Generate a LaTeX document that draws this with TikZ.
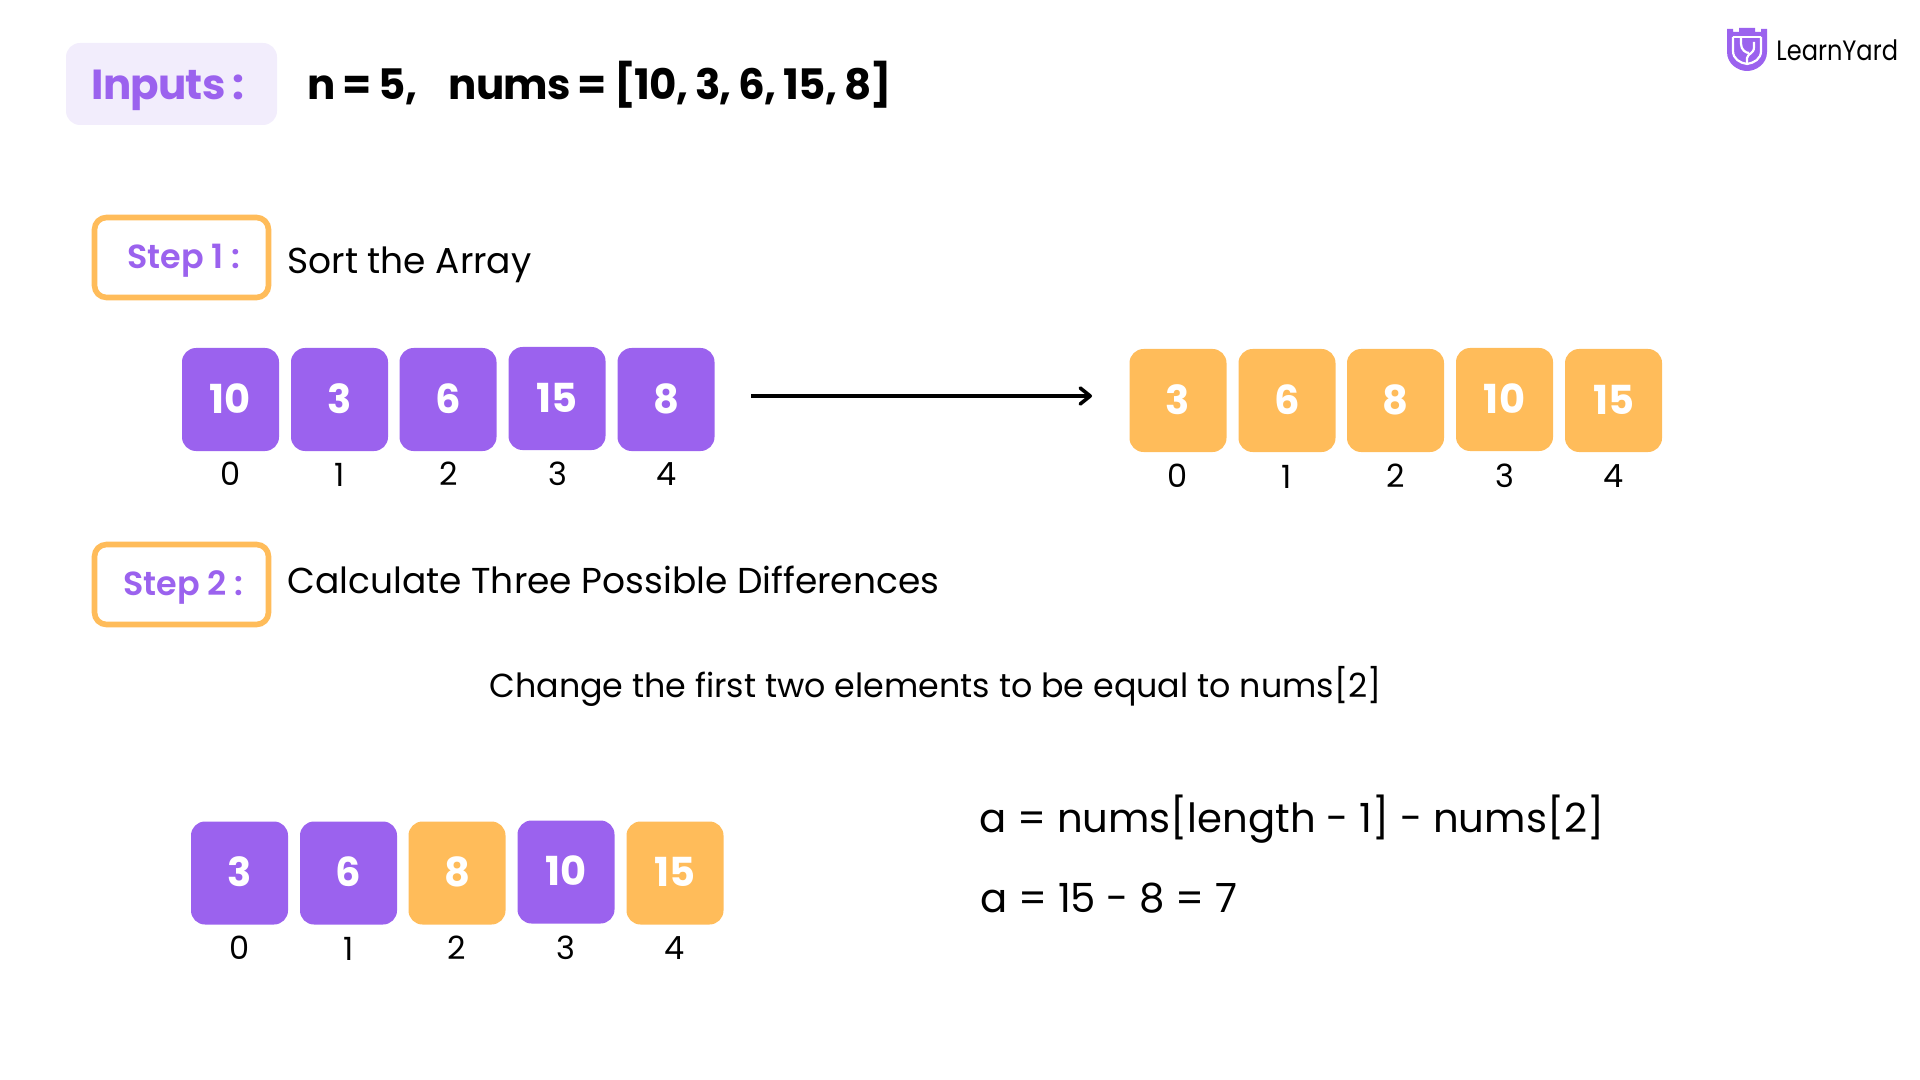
\documentclass[tikz,border=0pt]{standalone}
\usepackage{fontspec}
\usetikzlibrary{arrows.meta}
\setmainfont{Poppins}
\newfontfamily\semifont{Poppins SemiBold}
\newfontfamily\headfont[LetterSpace=-1.85,WordSpace=0.85]{Poppins Bold}
\newfontfamily\logofont[FakeStretch=0.86]{Poppins}
\definecolor{lypurple}{HTML}{9B62EE}
\definecolor{lyorange}{HTML}{FFBC5A}
\definecolor{lylilac}{HTML}{F2EDFC}
\begin{document}
\begin{tikzpicture}[x=0.5pt,y=-0.5pt,
    cell/.style={rounded corners=7pt,minimum width=48.5pt,minimum height=51.5pt,inner sep=0pt,text depth=1pt,text=white,font=\fontsize{20}{24}\selectfont\bfseries},
    pcell/.style={cell,fill=lypurple},
    ocell/.style={cell,fill=lyorange},
    idx/.style={inner sep=0pt,font=\fontsize{16}{20}\selectfont},
    stepbox/.style={draw=lyorange,line width=2.8pt,rounded corners=6pt,fill=white,minimum width=87pt,minimum height=40pt,inner sep=0pt},
    steplabel/.style={inner sep=0pt,anchor=base,text=lypurple,font=\fontsize{16.7}{20}\semifont},
    plain/.style={inner sep=0pt,anchor=base west,font=\fontsize{18}{22}\selectfont},
    bigeq/.style={inner sep=0pt,anchor=base west,font=\fontsize{20.1}{24}\selectfont}]
  \useasboundingbox (0,0) rectangle (1920,1080);

  \node[fill=lylilac,rounded corners=7pt,minimum width=105.5pt,minimum height=41pt,inner sep=0pt] (inbox) at (171.5,84) {};
  \node[inner sep=0pt,anchor=base,text=lypurple,font=\fontsize{21}{26}\headfont] (intext) at (168,100) {Inputs :};
  \node[inner sep=0pt,anchor=base west,font=\fontsize{21}{26}\headfont] (invals) at (307,100) {n = 5,\hspace{0.75em}nums = [10, 3, 6, 15, 8]};

  \node[stepbox] (s1) at (181.5,257.5) {};
  \node[steplabel] (s1text) at (184,269) {Step 1 :};
  \node[plain] (s1desc) at (287,274) {Sort the Array};

  \node[pcell] (a0) at (230.5,399.5) {10};
  \node[pcell] (a1) at (339.5,399.5) {3};
  \node[pcell] (a2) at (448,399.5) {6};
  \node[pcell] (a3) at (557,398.5) {15};
  \node[pcell] (a4) at (666,399.5) {8};
  \node[idx] (ai0) at (231,474) {0};
  \node[idx] (ai1) at (340,475) {1};
  \node[idx] (ai2) at (449,474) {2};
  \node[idx] (ai3) at (558,474) {3};
  \node[idx] (ai4) at (667,474) {4};

  \coordinate (arrowfrom) at (751,396);
  \coordinate (arrowto) at (1092,396);
  \draw[-{Straight Barb[round,length=5pt,width=8pt]},line width=1.8pt] (arrowfrom) -- (arrowto);

  \node[ocell] (b0) at (1178,400.5) {3};
  \node[ocell] (b1) at (1287,400.5) {6};
  \node[ocell] (b2) at (1395.5,400.5) {8};
  \node[ocell] (b3) at (1504.5,399.5) {10};
  \node[ocell] (b4) at (1613.5,400.5) {15};
  \node[idx] (bi0) at (1178,476) {0};
  \node[idx] (bi1) at (1287,477) {1};
  \node[idx] (bi2) at (1396,476) {2};
  \node[idx] (bi3) at (1505,476) {3};
  \node[idx] (bi4) at (1614,476) {4};

  \node[stepbox] (s2) at (181.5,584.5) {};
  \node[steplabel] (s2text) at (183.5,595) {Step 2 :};
  \node[plain] (s2desc) at (287,593) {Calculate Three Possible Differences};
  \node[plain,anchor=base,font=\fontsize{16.65}{20}\selectfont] (note) at (935.5,697) {Change the first two elements to be equal to nums[2]};

  \node[pcell] (c0) at (239.5,873) {3};
  \node[pcell] (c1) at (348.5,873) {6};
  \node[ocell] (c2) at (457,873) {8};
  \node[pcell] (c3) at (566,872) {10};
  \node[ocell] (c4) at (675,873) {15};
  \node[idx] (ci0) at (240,948) {0};
  \node[idx] (ci1) at (349,949) {1};
  \node[idx] (ci2) at (457,948) {2};
  \node[idx] (ci3) at (566,948) {3};
  \node[idx] (ci4) at (675,948) {4};

  \node[bigeq] (eqa) at (979,832) {a = nums[length - 1] - nums[2]};
  \node[bigeq] (eqb) at (980,912) {a = 15 - 8 = 7};

  \fill[lypurple] (1727,29) -- (1733,29) -- (1733,32) -- (1739,32) -- (1739,28) -- (1755,28) -- (1755,32) -- (1761,32) -- (1761,29) -- (1767,29) -- (1767,52) .. controls (1767,64) and (1756,71) .. (1747,71) .. controls (1738,71) and (1727,64) .. (1727,52) -- cycle;
  \draw[white,line width=0.9pt] (1733,37) -- (1761,37);
  \draw[white,line width=1.1pt] (1733,37) -- (1733,51) .. controls (1733,59) and (1740,63) .. (1747,64) .. controls (1754,63) and (1761,59) .. (1761,51) -- (1761,37);
  \draw[white,line width=1.1pt] (1741,37) -- (1741,44) .. controls (1741,50) and (1746,53) .. (1749,53);
  \draw[white,line width=1.1pt] (1754,42) -- (1754,47) .. controls (1754,54) and (1748,53) .. (1747,58) -- (1747,64);
  \node[inner sep=0pt,anchor=base west,font=\fontsize{14}{16}\logofont] (logo) at (1776,61) {LearnYard};
\end{tikzpicture}
\end{document}
